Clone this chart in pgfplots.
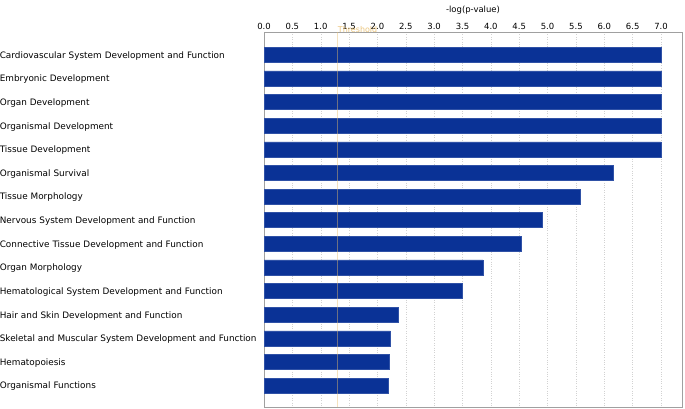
\documentclass[border=0pt]{standalone}
\usepackage{pgfplots}
\pgfplotsset{compat=1.18}
\usepackage{fontspec}
\setmainfont{DejaVu Sans}
\definecolor{barblue}{RGB}{10,50,150}
\definecolor{thr}{RGB}{232,190,110}
\definecolor{axgray}{RGB}{160,160,160}
\begin{document}
\begin{tikzpicture}
\useasboundingbox (0,0) rectangle (685bp,409bp);
\begin{axis}[
  at={(264bp,2bp)}, anchor=south west,
  scale only axis, width=418bp, height=375bp,
  bar width=15bp,
  xmin=0, xmax=7.37,
  ymin=-0.965, ymax=14.91,
  y dir=reverse,
  axis line style={axgray},
  xtick={0,0.5,...,7.0},
  xticklabel pos=upper,
  xticklabel style={font=\fontsize{8.5}{10}\selectfont, yshift=-1.5bp},
  /pgf/number format/assume math mode=true,
  xticklabel={\pgfmathprintnumber[fixed,fixed zerofill,precision=1]{\tick}},
  ytick={0,...,14},
  yticklabels={Cardiovascular System Development and Function,Embryonic Development,Organ Development,Organismal Development,Tissue Development,Organismal Survival,Tissue Morphology,Nervous System Development and Function,Connective Tissue Development and Function,Organ Morphology,Hematological System Development and Function,Hair and Skin Development and Function,Skeletal and Muscular System Development and Function,Hematopoiesis,Organismal Functions},
  yticklabel style={font=\fontsize{8.9}{10}\selectfont, text width=264bp, align=left, inner sep=0pt, anchor=east, yshift=-1bp},
  major tick length=0pt,
  xmajorgrids, grid style={dotted, gray!35},
  xlabel={-log(p-value)}, xlabel style={font=\fontsize{8.5}{10}\selectfont, at={(axis description cs:0.5,1)}, anchor=south, yshift=14bp},
  clip=false,
]
\addplot[xbar, fill=barblue, draw=barblue!85!white] coordinates {
(7.0,0) (7.0,1) (7.0,2) (7.0,3) (7.0,4) (6.16,5) (5.57,6) (4.90,7) (4.54,8) (3.86,9) (3.49,10) (2.37,11) (2.23,12) (2.21,13) (2.19,14)};
\addplot[thr, line width=0.5pt, opacity=0.45, mark=none] coordinates {(1.3,-0.965) (1.3,14.91)};
\node[thr, anchor=south west, inner sep=0pt, font=\fontsize{8}{9}\selectfont, yshift=-1bp, opacity=0.9] at (axis cs:1.3,-0.965) {Threshold};
\end{axis}
\end{tikzpicture}
\end{document}
